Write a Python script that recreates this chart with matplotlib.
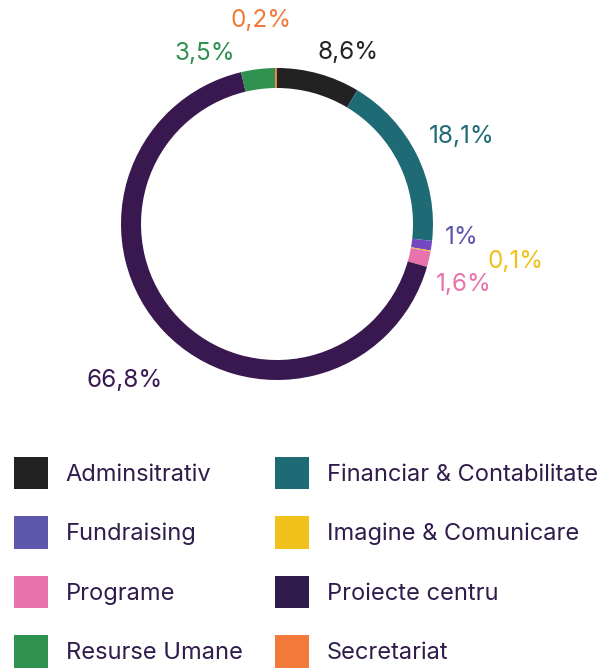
import numpy as np
import matplotlib.pyplot as plt
from matplotlib.patches import Patch

categories = ["Adminsitrativ", "Financiar & Contabilitate", "Fundraising",
              "Imagine & Comunicare", "Programe", "Proiecte centru",
              "Resurse Umane", "Secretariat"]
values = [8.6, 18.1, 1.0, 0.1, 1.6, 66.8, 3.5, 0.2]
value_labels = ["8,6%", "18,1%", "1%", "0,1%", "1,6%", "66,8%", "3,5%", "0,2%"]

slice_colors = ["#222222", "#1f6b75", "#7448c0", "#f0c11b",
                "#e872ab", "#38184f", "#2e9150", "#f27a3a"]
legend_colors = ["#222222", "#1f6b75", "#5f56ad", "#f0c11b",
                 "#e872ab", "#2f1c4b", "#2e9150", "#f27a3a"]
label_colors = ["#222222", "#1f6b75", "#5f56ad", "#f0c11b",
                "#e872ab", "#38184f", "#2e9150", "#f27a3a"]

# label placement: (angle shift in degrees, distance as fraction of radius)
label_shift = [7, 1, -4, -1, 5, -2, -16, -4]
label_dist = [1.19, 1.31, 1.19, 1.55, 1.26, 1.40, 1.19, 1.31]

plt.rcParams["font.family"] = ["Inter", "DejaVu Sans"]

W, H = 604, 668
fig = plt.figure(figsize=(W / 100, H / 100), dpi=100)
ax = fig.add_axes([0, 0, 1, 1])

cx, cy, R = 277, H - 224, 156
wedges, _ = ax.pie(values, colors=slice_colors, startangle=90, counterclock=False,
                   center=(cx, cy), radius=R,
                   wedgeprops=dict(width=20, linewidth=0))

total = sum(values)
start = 0.0
for i, v in enumerate(values):
    mid = (start + v / 2) / total * 360 + label_shift[i]
    start += v
    a = np.radians(mid)
    x = cx + R * label_dist[i] * np.sin(a)
    y = cy + R * label_dist[i] * np.cos(a)
    ax.text(x, y, value_labels[i], color=label_colors[i], fontsize=17.5,
            ha="center", va="center")

ax.set_xlim(0, W)
ax.set_ylim(0, H)
ax.set_aspect("equal")
ax.axis("off")

# legend is filled row by row in the reference
order = [0, 2, 4, 6, 1, 3, 5, 7]
handles = [Patch(facecolor=legend_colors[i], edgecolor="none") for i in order]
names = [categories[i] for i in order]
leg = ax.legend(handles, names, ncols=2, loc="upper left",
                bbox_to_anchor=(0.007, 0.330), frameon=False, fontsize=17,
                handlelength=1.44, handleheight=1.73, handletextpad=0.76,
                labelspacing=1.15, columnspacing=1.36, borderaxespad=0)
for t in leg.get_texts():
    t.set_color("#2f1c4b")

fig.savefig("out.png", dpi=100)
